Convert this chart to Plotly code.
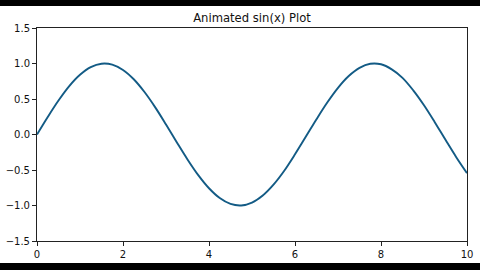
import plotly.graph_objects as go

x_vals = [0.0, 0.25, 0.5, 0.75, 1.0, 1.25, 1.5, 1.75, 2.0, 2.25, 2.5, 2.75, 3.0, 3.25,
          3.5, 3.75, 4.0, 4.25, 4.5, 4.75, 5.0, 5.25, 5.5, 5.75, 6.0, 6.25, 6.5, 6.75,
          7.0, 7.25, 7.5, 7.75, 8.0, 8.25, 8.5, 8.75, 9.0, 9.25, 9.5, 9.75, 10.0]
y_vals = [0.000, 0.247, 0.479, 0.682, 0.841, 0.949, 0.997, 0.984, 0.909, 0.778, 0.598, 0.382,
          0.141, -0.108, -0.351, -0.572, -0.757, -0.895, -0.978, -0.999, -0.959, -0.859,
          -0.706, -0.510, -0.279, -0.033, 0.215, 0.450, 0.657, 0.823, 0.938, 0.996, 0.989,
          0.918, 0.798, 0.622, 0.412, 0.174, -0.075, -0.319, -0.544]
x_ticks = [0, 2, 4, 6, 8, 10]
y_ticks = [-1.5, -1.0, -0.5, 0.0, 0.5, 1.0, 1.5]
title_text = "Animated sin(x) Plot"

fig = go.Figure()
fig.add_trace(go.Scatter(x=x_vals, y=y_vals, mode="lines",
                         line=dict(color="#135b85", width=1.9, shape="spline", smoothing=1.0),
                         hoverinfo="skip"))

axis_common = dict(showline=True, mirror=True, linecolor="#222222", linewidth=1,
                   ticks="outside", ticklen=4, tickcolor="#222222", tickwidth=1,
                   showgrid=False, zeroline=False, automargin=False,
                   tickfont=dict(family="DejaVu Sans", size=10, color="#111111"))

fig.update_layout(
    width=480, height=270,
    margin=dict(l=37, r=13, t=28, b=29),
    paper_bgcolor="white", plot_bgcolor="white",
    showlegend=False,
    title=dict(text=title_text, xref="paper", x=0.5, xanchor="center",
               yref="container", y=1 - 18 / 270, yanchor="middle",
               font=dict(family="DejaVu Sans", size=11.6, color="#111111")),
    xaxis=dict(range=[0, 10], tickvals=x_ticks, **axis_common),
    yaxis=dict(range=[-1.5, 1.5], tickvals=y_ticks, tickformat=".1f", **axis_common),
    shapes=[
        dict(type="rect", xref="paper", yref="paper", x0=-0.2, x1=1.2,
             y0=(241 - 6) / 213, y1=1.3, fillcolor="black", line=dict(width=0)),
        dict(type="rect", xref="paper", yref="paper", x0=-0.2, x1=1.2,
             y0=-0.3, y1=(241 - 263) / 213, fillcolor="black", line=dict(width=0)),
    ],
)

fig.write_html("out.html")
